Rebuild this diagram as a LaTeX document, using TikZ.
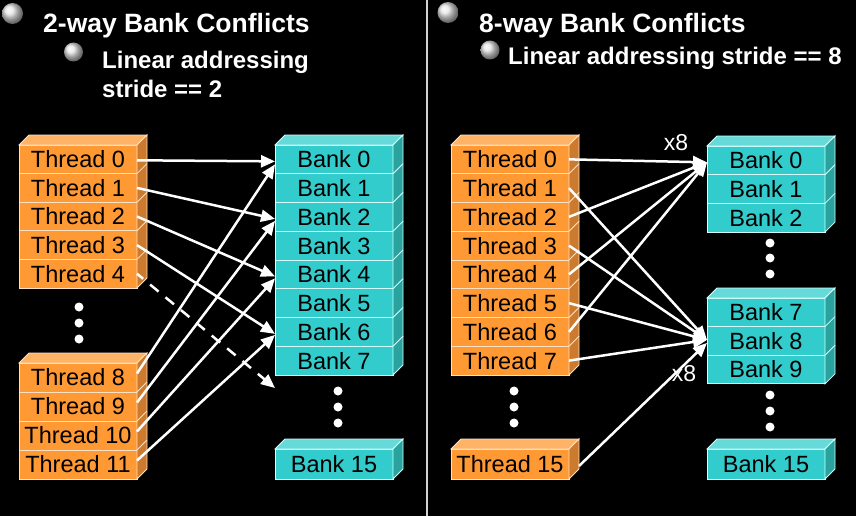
\documentclass[tikz,border=0pt]{standalone}
\usepackage{fontspec}
\setmainfont{Liberation Sans}
\usetikzlibrary{arrows.meta,calc}
\definecolor{orF}{HTML}{FF9933}
\definecolor{orT}{HTML}{FFB366}
\definecolor{orS}{HTML}{CC7A2E}
\definecolor{orE}{HTML}{FFE2C4}
\definecolor{cyF}{HTML}{33CCCC}
\definecolor{cyT}{HTML}{66D9D9}
\definecolor{cyS}{HTML}{2AA39F}
\definecolor{cyE}{HTML}{D4FFFF}
\newcommand\boxfaces[5]{%
  \filldraw[fill=#3, draw=#5, line width=0.8pt] (#1.north west) -- ++(10,-10) -- ($(#1.north east)+(10,-10)$) -- (#1.north east) -- cycle;
  \filldraw[fill=#4, draw=#5, line width=0.8pt] (#1.north east) -- ++(10,-10) -- ($(#2.south east)+(10,-10)$) -- (#2.south east) -- cycle;
}
\tikzset{
  cell/.style={anchor=north west, minimum width=118pt, inner sep=0pt, outer sep=0pt, line width=1pt, text=black, font=\fontsize{23.5}{23.5}\selectfont},
  thr/.style={cell, fill=orF, draw=orE},
  bnk/.style={cell, fill=cyF, draw=cyE},
  arr/.style={white, line width=2.5pt, -{Triangle[length=14pt,width=12pt]}},
  title/.style={anchor=base west, inner sep=0pt, text=white, font=\fontsize{26.5}{30}\selectfont\bfseries},
  sub/.style={anchor=base west, inner sep=0pt, text=white, font=\fontsize{24}{28}\selectfont\bfseries},
  lbl/.style={text=white, inner sep=0pt, font=\fontsize{23}{23}\selectfont},
  bullet/.style={shading=ball, ball color=white!80!gray}
}
\begin{document}
\begin{tikzpicture}[x=1pt,y=-1pt]
\fill[black] (0,0) rectangle (856,516);
\useasboundingbox (0,0) rectangle (856,516);
% divider
\draw[gray!35!white, line width=1.2pt] (427,0) -- (427,516);
% bullets and titles
\shade[bullet] (12.5,13.5) circle (10.5pt);
\shade[bullet] (73.5,52) circle (9.5pt);
\shade[bullet] (448,12.5) circle (10.5pt);
\shade[bullet] (490,50) circle (9.5pt);
\node[title] (ttlL) at (43,33) {2-way Bank Conflicts};
\node[sub] (subL1) at (102,69) {Linear addressing};
\node[sub] (subL2) at (102,98) {stride == 2};
\node[title] (ttlR) at (479,32.5) {8-way Bank Conflicts};
\node[sub] (subR) at (508,65) {Linear addressing stride == 8};

% ---------- left panel ----------
\foreach \i in {0,...,4}
  \node[thr, minimum height=28.6pt] (Lt\i) at (19,{145+28.6*\i}) {Thread \i};
\boxfaces{Lt0}{Lt4}{orT}{orS}{orE}
\foreach \i in {0,...,3} \draw[orE, line width=0.8pt] (Lt\i.south east) -- ++(10,-10);

\foreach \i [count=\k from 0] in {8,...,11}
  \node[thr, minimum height=29pt] (Lt\i) at (19,{363+29*\k}) {Thread \i};
\boxfaces{Lt8}{Lt11}{orT}{orS}{orE}
\foreach \i in {8,...,10} \draw[orE, line width=0.8pt] (Lt\i.south east) -- ++(10,-10);

\foreach \y in {307,323,339} \fill[white] (79,\y) circle (4.5pt);

\foreach \i in {0,...,7}
  \node[bnk, minimum height=28.75pt] (Lb\i) at (275,{145+28.75*\i}) {Bank \i};
\boxfaces{Lb0}{Lb7}{cyT}{cyS}{cyE}
\foreach \i in {0,...,6} \draw[cyE, line width=0.8pt] (Lb\i.south east) -- ++(10,-10);

\node[bnk, minimum height=30pt] (Lb15) at (275,449) {Bank 15};
\boxfaces{Lb15}{Lb15}{cyT}{cyS}{cyE}

\foreach \y in {391,407,423} \fill[white] (338,\y) circle (4.5pt);

\coordinate (Lb8) at (275,388);

\draw[arr] ([yshift=-1pt]Lt0.east) -- ([yshift=-2pt]Lb0.west);
\draw[arr] (Lt1.east) -- ([yshift=-2pt]Lb2.west);
\draw[arr] (Lt2.east) -- ([yshift=-2pt]Lb4.west);
\draw[arr] (Lt3.east) -- ([yshift=-2pt]Lb6.west);
\draw[arr, dash pattern=on 11pt off 9pt, dash phase=3pt] (Lt4.east) -- (Lb8);
\draw[arr] ([yshift=4pt]Lt8.east) -- ([yshift=-5pt]Lb0.west);
\draw[arr] ([yshift=4pt]Lt9.east) -- ([yshift=-4pt]Lb2.west);
\draw[arr] ([yshift=4pt]Lt10.east) -- ([yshift=-4pt]Lb4.west);
\draw[arr] ([yshift=4pt]Lt11.east) -- ([yshift=-3pt]Lb6.west);

% ---------- right panel ----------
\foreach \i in {0,...,7}
  \node[thr, minimum height=28.75pt] (Rt\i) at (451,{145+28.75*\i}) {Thread \i};
\boxfaces{Rt0}{Rt7}{orT}{orS}{orE}
\foreach \i in {0,...,6} \draw[orE, line width=0.8pt] (Rt\i.south east) -- ++(10,-10);

\node[thr, minimum height=30pt] (Rt15) at (451,449) {Thread 15};
\boxfaces{Rt15}{Rt15}{orT}{orS}{orE}

\foreach \y in {391,407,423} \fill[white] (514,\y) circle (4.5pt);

\foreach \i in {0,...,2}
  \node[bnk, minimum height=28.7pt] (Rb\i) at (707,{146+28.7*\i}) {Bank \i};
\boxfaces{Rb0}{Rb2}{cyT}{cyS}{cyE}
\foreach \i in {0,...,1} \draw[cyE, line width=0.8pt] (Rb\i.south east) -- ++(10,-10);

\foreach \y in {243,258,274} \fill[white] (770,\y) circle (4.5pt);

\foreach \i [count=\k from 0] in {7,...,9}
  \node[bnk, minimum height=28.6pt] (Rb\i) at (707,{298+28.6*\k}) {Bank \i};
\boxfaces{Rb7}{Rb9}{cyT}{cyS}{cyE}
\foreach \i in {7,8} \draw[cyE, line width=0.8pt] (Rb\i.south east) -- ++(10,-10);

\foreach \y in {395,411,427} \fill[white] (770,\y) circle (4.5pt);

\node[bnk, minimum height=30pt] (Rb15) at (707,449) {Bank 15};
\boxfaces{Rb15}{Rb15}{cyT}{cyS}{cyE}

\foreach \i in {0,2,4,6} \draw[arr] (Rt\i.east) -- ([yshift=-2pt]Rb0.west);
\foreach \i in {1,3,5,7} \draw[arr] (Rt\i.east) -- ([yshift=1pt]Rb8.west);
\draw[arr] ([shift={(10pt,-2pt)}]Rt15.east) -- ([yshift=-2pt]Rb8.west);

\node[lbl] (x8a) at (676,143) {x8};
\node[lbl] (x8b) at (684,374) {x8};
\end{tikzpicture}
\end{document}
